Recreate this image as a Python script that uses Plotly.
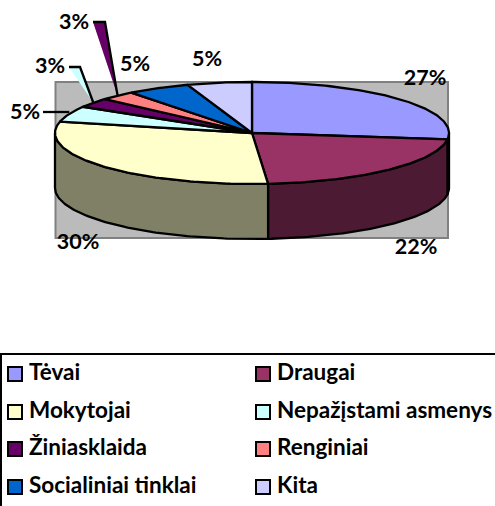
import math
import plotly.graph_objects as go

categories = ["Tėvai", "Draugai", "Mokytojai", "Nepažįstami asmenys",
              "Žiniasklaida", "Renginiai", "Socialiniai tinklai", "Kita"]
values = [27.0, 21.7, 29.9, 5.0, 3.0, 2.9, 5.2, 5.3]
top_colors = ["#9999FF", "#993366", "#FFFFCC", "#CCFFFF",
              "#660066", "#FF8080", "#0066CC", "#CCCCFF"]
side_colors = ["#4D4D80", "#4D1A33", "#808066", "#668080",
               "#330033", "#804040", "#003366", "#666680"]
label_pos = [(425, 79.5), (416, 248.5), (78, 243.5), (25, 113.5),
             (50, 67.5), (74, 23.5), (135, 65.5), (207, 60.5)]

CX, CY, RX, RY, DEPTH = 252, 133, 197, 51, 55
FONT = "Lato, Carlito, Calibri, sans-serif"
LABEL_SIZE = 21.5
LEGEND_SIZE = 22.5
EDGE = 2.3


def rim(a, dy=0):
    r = math.radians(a)
    return CX + RX * math.sin(r), CY - RY * math.cos(r) + dy


def arc(a0, a1, dy=0):
    n = max(2, int(abs(a1 - a0)) + 2)
    return [rim(a0 + (a1 - a0) * i / (n - 1), dy) for i in range(n)]


def add_poly(fig, pts, fill, width=EDGE):
    fig.add_trace(go.Scatter(
        x=[p[0] for p in pts], y=[p[1] for p in pts], mode="lines",
        fill="toself", fillcolor=fill,
        line=dict(color="#000000", width=width, shape="linear"),
        hoverinfo="skip", showlegend=False))


total = sum(values)
angles = [0.0]
for v in values:
    angles.append(angles[-1] + v / total * 360)

fig = go.Figure()

# side walls (front half of the disc only)
for i, v in enumerate(values):
    a0, a1 = max(angles[i], 90), min(angles[i + 1], 270)
    if a1 > a0:
        pts = arc(a0, a1) + arc(a1, a0, DEPTH)
        pts.append(pts[0])
        add_poly(fig, pts, side_colors[i])

# top faces
for i, v in enumerate(values):
    pts = [(CX, CY)] + arc(angles[i], angles[i + 1]) + [(CX, CY)]
    add_poly(fig, pts, top_colors[i])


def mid(i):
    return rim((angles[i] + angles[i + 1]) / 2)


# leader lines: slice rim -> label
def leader(tip, a, b, fill):
    fig.add_trace(go.Scatter(x=[a[0], b[0], tip[0], a[0]], y=[a[1], b[1], tip[1], a[1]],
                             mode="lines", fill="toself", fillcolor=fill,
                             line=dict(width=0, color=fill), hoverinfo="skip", showlegend=False))
    fig.add_trace(go.Scatter(x=[a[0], b[0], tip[0]], y=[a[1], b[1], tip[1]], mode="lines",
                             line=dict(color="#000000", width=EDGE), hoverinfo="skip", showlegend=False))


leader(mid(5), (93, 22), (105, 22), top_colors[4])
leader(mid(4), (69, 67), (80, 67), top_colors[3])
fig.add_trace(go.Scatter(x=[43, mid(3)[0]], y=[112, 112], mode="lines",
                         line=dict(color="#000000", width=EDGE), hoverinfo="skip", showlegend=False))

# percentage labels
fig.add_trace(go.Scatter(
    x=[p[0] for p in label_pos], y=[p[1] for p in label_pos], mode="text",
    text=[f"{round(v)}%" for v in values], textposition="middle center",
    textfont=dict(family=FONT, size=LABEL_SIZE, color="#000000", weight="bold"),
    hoverinfo="skip", showlegend=False))

# legend
legend_xs = [15, 263]
legend_ys = [374, 412, 449, 487]
text_offset = 14
for i, name in enumerate(categories):
    x, y = legend_xs[i % 2], legend_ys[i // 2]
    fig.add_trace(go.Scatter(
        x=[x], y=[y], mode="markers",
        marker=dict(symbol="square", size=14, color=top_colors[i],
                    line=dict(color="#000000", width=2)),
        name=name, showlegend=False))
    fig.add_trace(go.Scatter(
        x=[x + text_offset], y=[y + 0.5], mode="text",
        text=[name], textposition="middle right",
        textfont=dict(family=FONT, size=LEGEND_SIZE, color="#000000", weight="bold"),
        hoverinfo="skip", showlegend=False))

fig.update_layout(
    width=495, height=506, autosize=False,
    margin=dict(l=0, r=0, t=0, b=0),
    paper_bgcolor="#FFFFFF", plot_bgcolor="#FFFFFF",
    xaxis=dict(range=[0, 495], visible=False, fixedrange=True),
    yaxis=dict(range=[506, 0], visible=False, fixedrange=True),
    shapes=[
        dict(type="rect", layer="below", x0=55.5, x1=448, y0=82, y1=238,
             fillcolor="#BBBBBB", line=dict(color="#808080", width=2)),
        dict(type="rect", layer="below", x0=1, x1=530, y0=354, y1=540,
             fillcolor="#FFFFFF", line=dict(color="#000000", width=2)),
    ],
)

fig.write_html("out.html", config=dict(displayModeBar=False),
               post_script="document.body.style.margin='0';document.body.style.overflow='hidden';")
